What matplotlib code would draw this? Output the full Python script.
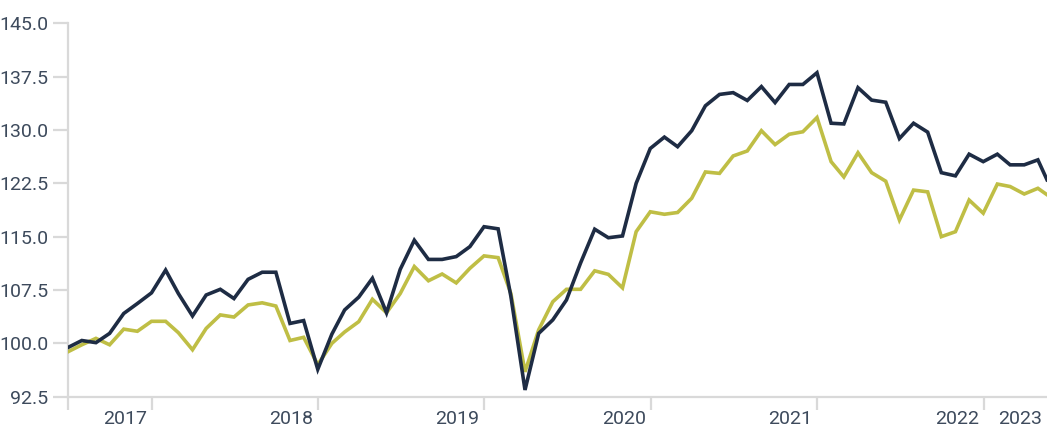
import pandas as pd
import matplotlib
matplotlib.use('Agg')
import matplotlib.pyplot as plt
import matplotlib.dates as mdates

plt.rcParams['font.family'] = ['Liberation Sans Narrow', 'Roboto', 'DejaVu Sans']

# Month-end observations plus the latest partial month
dates = list(pd.date_range('2016-06-30', periods=71, freq='ME')) + [pd.Timestamp('2022-05-20')]

dark_series = [
    99.4, 100.4, 100.1, 101.4, 104.2, 105.6, 107.1, 110.3, 107.0, 103.85,
    106.8, 107.6, 106.3, 109.0, 110.0, 110.0, 102.8, 103.2, 96.35, 101.3,
    104.7, 106.5, 109.15, 104.3, 110.4, 114.5, 111.8, 111.8, 112.2, 113.6,
    116.4, 116.1, 106.6, 93.45, 101.4, 103.3, 106.1, 111.3, 116.05, 114.85,
    115.1, 122.5, 127.4, 129.0, 127.65, 129.9, 133.4, 135.0, 135.25, 134.15,
    136.1, 133.85, 136.4, 136.4, 138.05, 130.95, 130.85, 135.95, 134.2, 133.9,
    128.8, 130.95, 129.7, 124.0, 123.55, 126.6, 125.55, 126.6, 125.1, 125.1,
    125.8, 123.0,
]

light_series = [
    98.8, 99.8, 100.7, 99.8, 102.0, 101.7, 103.1, 103.1, 101.5, 99.1,
    102.1, 104.0, 103.7, 105.4, 105.7, 105.25, 100.4, 100.85, 97.0, 100.0,
    101.6, 103.05, 106.2, 104.3, 107.0, 110.8, 108.8, 109.75, 108.5, 110.55,
    112.3, 112.05, 107.0, 96.0, 101.9, 105.85, 107.6, 107.6, 110.2, 109.7,
    107.8, 115.7, 118.5, 118.15, 118.4, 120.4, 124.1, 123.9, 126.35, 127.05,
    129.9, 127.95, 129.4, 129.75, 131.75, 125.55, 123.4, 126.8, 124.0, 122.8,
    117.35, 121.55, 121.3, 115.0, 115.7, 120.15, 118.3, 122.4, 122.05, 121.0,
    121.8, 120.9,
]

y_ticks = [92.5, 100.0, 107.5, 115.0, 122.5, 130.0, 137.5, 145.0]
x_tick_dates = ['2016-06-30', '2017-01-01', '2018-01-01', '2019-01-01',
                '2020-01-01', '2021-01-01', '2022-01-01']
year_labels = ['2017', '2018', '2019', '2020', '2021', '2022', '2023']
label_anchor_dates = ['2017-01-01', '2018-01-01', '2019-01-01', '2020-01-01',
                      '2021-01-01', '2022-01-01', '2022-05-20']

DARK = '#1e2c44'
LIGHT = '#bfbe45'
AXIS_GREY = '#d9d9d9'
TEXT = '#3d4a5c'


def draw_chart(output_file):
    fig = plt.figure(figsize=(10.47, 4.28), dpi=100)
    ax = fig.add_axes([67.7 / 1047, (428 - 396.7) / 428, 1 - 67.7 / 1047, (396.7 - 23.3) / 428])

    ax.plot(dates, light_series, color=LIGHT, linewidth=2.6, solid_joinstyle='miter', zorder=3)
    ax.plot(dates, dark_series, color=DARK, linewidth=2.6, solid_joinstyle='miter', zorder=4)

    ax.set_ylim(92.5, 145.0)
    ax.set_xlim(dates[0], dates[-1])

    for side in ['top', 'right']:
        ax.spines[side].set_visible(False)
    for side in ['left', 'bottom']:
        ax.spines[side].set_color(AXIS_GREY)
        ax.spines[side].set_linewidth(1.6)

    ax.set_yticks(y_ticks)
    ax.set_yticklabels([f'{v:.1f}' for v in y_ticks])
    ax.tick_params(axis='y', length=11, width=1.6, color=AXIS_GREY, pad=3,
                   labelsize=14, labelcolor=TEXT)

    ax.set_xticks([pd.Timestamp(d) for d in x_tick_dates])
    ax.set_xticklabels([])
    ax.tick_params(axis='x', length=9.5, width=1.6, color=AXIS_GREY)

    # year labels sit just left of the boundary they close
    for label, anchor in zip(year_labels, label_anchor_dates):
        ax.annotate(label, xy=(mdates.date2num(pd.Timestamp(anchor)), 0),
                    xycoords=('data', 'axes fraction'),
                    xytext=(-5, -13), textcoords='offset pixels',
                    ha='right', va='top', fontsize=14, color=TEXT,
                    annotation_clip=False)

    ax.patch.set_visible(False)
    fig.savefig(output_file, dpi=100)
    plt.close(fig)


def main():
    draw_chart('out.png')


if __name__ == '__main__':
    main()
